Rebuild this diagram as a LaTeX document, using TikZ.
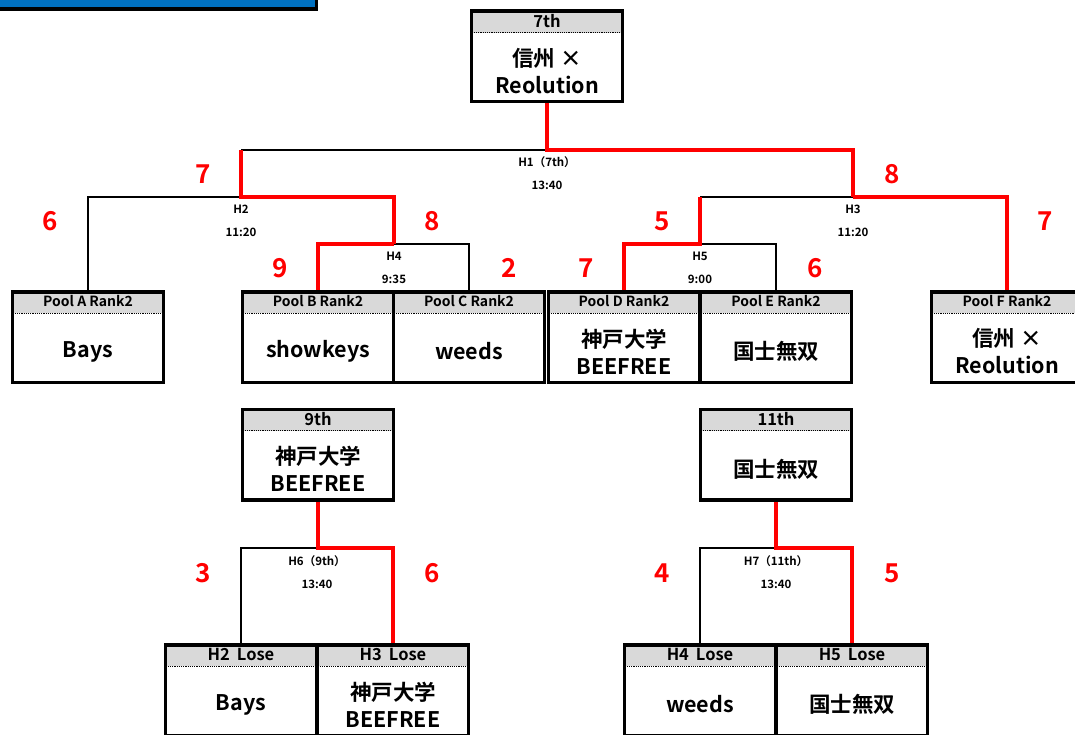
\documentclass[tikz,border=0pt]{standalone}
\usepackage{fontspec}
\setmainfont{Noto Sans CJK JP}[BoldFont={* Bold}]
\usetikzlibrary{positioning,backgrounds,calc}

\definecolor{headgray}{RGB}{217,217,217}
\definecolor{winred}{RGB}{255,0,0}
\definecolor{barblue}{RGB}{0,112,192}

\newcommand{\bighead}{\fontsize{16.5}{16.5}\selectfont}
% box with grey header and team name below the dotted line
\newcommand{\poolbox}[5]{%
  \node[teambox] (#1) at (#2,#3) {};
  \node[headlab,below=0pt of #1.north] (#1-h) {#4};
  \node[bodylab] (#1-b) at ($(#1.center)+(0,14.5)$) {#5};
}

\tikzset{
  teambox/.style={draw,line width=3.5pt,fill=white,minimum width=151pt,minimum height=90.5pt,inner sep=0pt,
    path picture={
      \fill[headgray] (path picture bounding box.north west) rectangle ([yshift=-21.5pt]path picture bounding box.north east);
      \draw[line width=1.2pt,dash pattern=on 1.2pt off 1pt] ([yshift=-21.5pt]path picture bounding box.north west) -- ([yshift=-21.5pt]path picture bounding box.north east);
    }},
  headlab/.style={minimum height=22pt,inner sep=0pt,font=\fontsize{14}{14}\selectfont\bfseries},
  bodylab/.style={align=center,inner sep=0pt,font=\fontsize{21.5}{27}\selectfont\bfseries},
  matchlab/.style={align=center,inner sep=0pt,font=\fontsize{11.5}{23}\selectfont\bfseries},
  score/.style={text=winred,inner sep=0pt,font=\fontsize{26}{26}\selectfont\bfseries},
  plainline/.style={line width=2pt},
  winline/.style={winred,line width=4.5pt},
}

\begin{document}
\begin{tikzpicture}[x=1pt,y=-1pt]
  \useasboundingbox (0,0) rectangle (1075,735);
  % title bar, cut at the page edge
  \fill (0,0) rectangle (318,11);
  \fill[barblue] (0,0) rectangle (315,7.5);

  % main bracket
  \poolbox{top7}{547}{56.5}{\bighead 7th}{信州 ×\\Reolution}
  \poolbox{poolA}{88}{337}{Pool A Rank2}{Bays}
  \poolbox{poolB}{318}{337}{Pool B Rank2}{showkeys}
  \poolbox{poolC}{469}{337}{Pool C Rank2}{weeds}
  \poolbox{poolD}{624}{337}{Pool D Rank2}{神戸大学\\BEEFREE}
  \poolbox{poolE}{776}{337}{Pool E Rank2}{国士無双}
  \poolbox{poolF}{1007}{337}{Pool F Rank2}{信州 ×\\Reolution}

  % placement matches
  \poolbox{ninth}{318}{454.5}{\bighead 9th}{神戸大学\\BEEFREE}
  \poolbox{eleventh}{776}{454.5}{\bighead 11th}{国士無双}
  \poolbox{h2lose}{241}{690}{\bighead H2\hspace{7pt}Lose}{Bays}
  \poolbox{h3lose}{393}{690}{\bighead H3\hspace{7pt}Lose}{神戸大学\\BEEFREE}
  \poolbox{h4lose}{700}{690}{\bighead H4\hspace{7pt}Lose}{weeds}
  \poolbox{h5lose}{852}{690}{\bighead H5\hspace{7pt}Lose}{国士無双}

  \coordinate (h1) at (547,150);
  \coordinate (h2) at (241,197);
  \coordinate (h3) at (853,197);
  \coordinate (h4) at (394,244);
  \coordinate (h5) at (700,244);
  \coordinate (h6) at (318,548);
  \coordinate (h7) at (776,548);

  \begin{scope}[on background layer]
    \draw[plainline] (h1) -- (h2 |- h1);
    \draw[plainline] (h2) -| (poolA.north);
    \draw[plainline] (h4) -| (poolC.north);
    \draw[plainline] (h3) -- (h5 |- h3);
    \draw[plainline] (h5) -| (poolE.north);
    \draw[plainline] (h6) -| (h2lose.north);
    \draw[plainline] (h7) -| (h4lose.north);
    \draw[winline] (top7.south) -- (h1) -| (h3);
    \draw[winline] (h2 |- h1) -- (h2) -| (h4);
    \draw[winline] (h4) -| (poolB.north);
    \draw[winline] (h3) -| (poolF.north);
    \draw[winline] (h5 |- h3) -- (h5) -| (poolD.north);
    \draw[winline] (ninth.south) -- (h6) -| (h3lose.north);
    \draw[winline] (eleventh.south) -- (h7) -| (h5lose.north);
  \end{scope}

  \node[matchlab] (h1lab) at (547,173.5) {H1（7th）\\13:40};
  \node[matchlab] (h2lab) at (241,221) {H2\\11:20};
  \node[matchlab] (h3lab) at (853,221) {H3\\11:20};
  \node[matchlab] (h4lab) at (394,267.5) {H4\\9:35};
  \node[matchlab] (h5lab) at (700,267.5) {H5\\9:00};
  \node[matchlab] (h6lab) at (317,572.5) {H6（9th）\\13:40};
  \node[matchlab] (h7lab) at (776,572.5) {H7（11th）\\13:40};

  % scores
  \node[score] (s1) at (203,174) {7};
  \node[score] (s2) at (892,174) {8};
  \node[score] (s3) at (50,221) {6};
  \node[score] (s4) at (432,221) {8};
  \node[score] (s5) at (662,221) {5};
  \node[score] (s6) at (1045,221) {7};
  \node[score] (s7) at (280,268) {9};
  \node[score] (s8) at (509,268) {2};
  \node[score] (s9) at (586,268) {7};
  \node[score] (s10) at (815,268) {6};
  \node[score] (s11) at (203,573) {3};
  \node[score] (s12) at (432,573) {6};
  \node[score] (s13) at (662,573) {4};
  \node[score] (s14) at (892,573) {5};
\end{tikzpicture}
\end{document}
